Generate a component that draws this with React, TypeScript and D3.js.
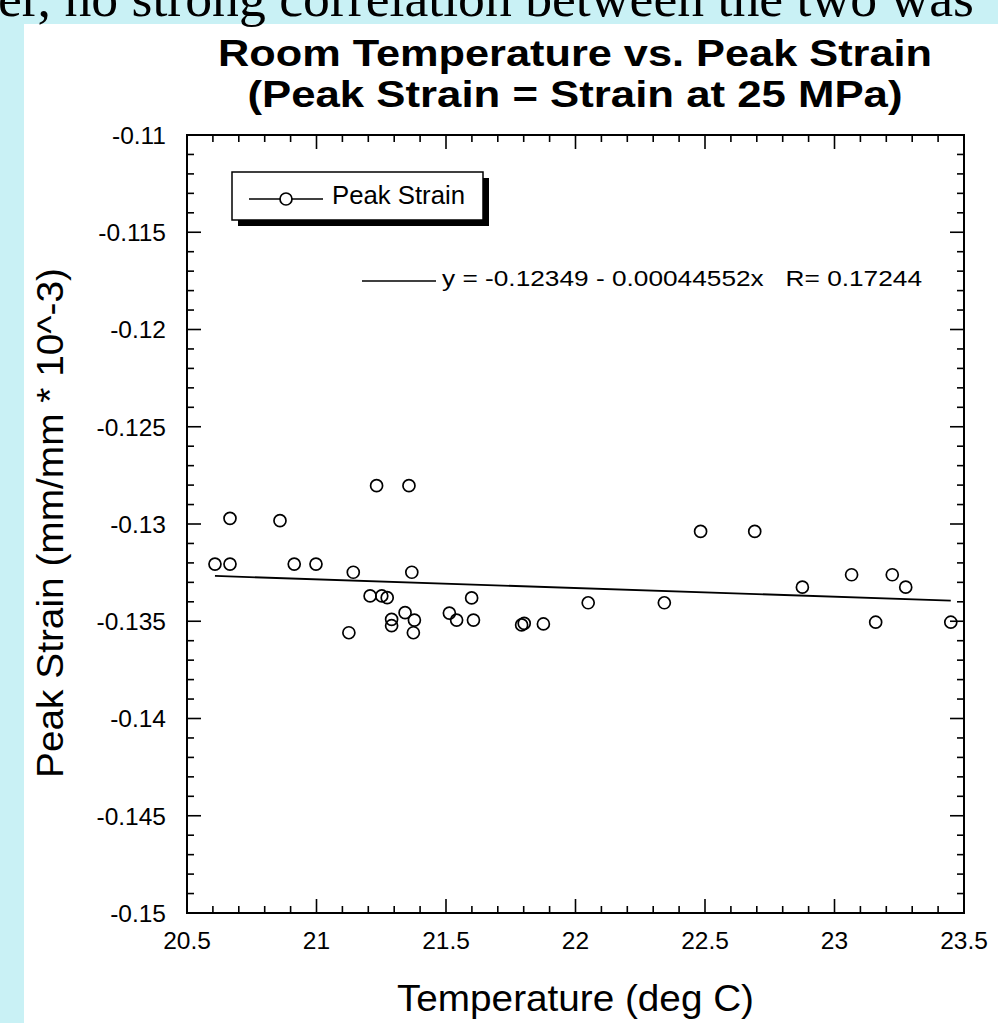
import React from "react";
import * as d3 from "d3";

// Room temperature (deg C) for each test
const temperature = [
  20.608, 20.666, 20.666, 20.859, 20.914, 20.998, 21.232, 21.357, 21.142, 21.368,
  21.125, 21.207, 21.252, 21.273, 21.29, 21.29, 21.342, 21.378, 21.374, 21.513,
  21.541, 21.599, 21.606, 21.792, 21.802, 21.876, 22.049, 22.343, 22.483, 22.692,
  22.876, 23.066, 23.223, 23.275, 23.159, 23.449,
];

// Peak strain (mm/mm * 10^-3) measured at 25 MPa
const peakStrain = [
  -0.13206, -0.13206, -0.12971, -0.12983, -0.13206, -0.13206, -0.12803, -0.12803, -0.13248, -0.13248,
  -0.13559, -0.1337, -0.1337, -0.13379, -0.1349, -0.13523, -0.13456, -0.13494, -0.13559, -0.13458,
  -0.13494, -0.1338, -0.13494, -0.13519, -0.13511, -0.13514, -0.13405, -0.13405, -0.13038, -0.13038,
  -0.13325, -0.13261, -0.13261, -0.13325, -0.13505, -0.13505,
];

// Linear fit coefficients: y = a + b * x
const fitIntercept = -0.12349;
const fitSlope = -0.00044552;
const fitR = 0.17244;

const xTickValues = [20.5, 21, 21.5, 22, 22.5, 23, 23.5];
const xTickLabels = ["20.5", "21", "21.5", "22", "22.5", "23", "23.5"];
const yTickValues = [-0.11, -0.115, -0.12, -0.125, -0.13, -0.135, -0.14, -0.145, -0.15];
const yTickLabels = ["-0.11", "-0.115", "-0.12", "-0.125", "-0.13", "-0.135", "-0.14", "-0.145", "-0.15"];

const W = 998;
const H = 1023;
const plot = { left: 187, right: 964, top: 135, bottom: 913 };
const SANS = "'Liberation Sans', Arial, Helvetica, sans-serif";

export default function App() {
  const x = d3.scaleLinear().domain([20.5, 23.5]).range([plot.left, plot.right]);
  const y = d3.scaleLinear().domain([-0.15, -0.11]).range([plot.bottom, plot.top]);

  const xMinor = d3.range(0, 31).map((i) => 20.5 + i * 0.1);
  const yMinor = d3.range(0, 41).map((i) => -0.15 + i * 0.001);
  const majorLen = 14;
  const minorLen = 7;

  const xMin = d3.min(temperature) as number;
  const xMax = d3.max(temperature) as number;
  const fitLine = d3
    .line<number>()
    .x((t) => x(t))
    .y((t) => y(fitIntercept + fitSlope * t));

  const fitLabel = `y = ${fitIntercept} - ${Math.abs(fitSlope).toFixed(8)}x   R= ${fitR}`;

  return (
    <div style={{ position: "absolute", left: 0, top: 0 }}>
      <svg width={W} height={H} style={{ display: "block" }}>
        <rect x={0} y={0} width={W} height={H} fill="#c9f1f5" />
        <rect x={24} y={24} width={W - 24} height={H - 24} fill="#ffffff" />
        <text
          x={-2}
          y={16}
          fontFamily="'Liberation Serif', 'Times New Roman', serif"
          fontSize={52}
          textLength={976}
          lengthAdjust="spacingAndGlyphs"
          fill="#000"
        >
          er, no strong correlation between the two was
        </text>

        {/* Title */}
        <text
          x={575}
          y={66}
          textAnchor="middle"
          fontFamily={SANS}
          fontWeight="bold"
          fontSize={37}
          textLength={714}
          lengthAdjust="spacingAndGlyphs"
        >
          Room Temperature vs. Peak Strain
        </text>
        <text
          x={575}
          y={107}
          textAnchor="middle"
          fontFamily={SANS}
          fontWeight="bold"
          fontSize={37}
          textLength={655}
          lengthAdjust="spacingAndGlyphs"
        >
          (Peak Strain = Strain at 25 MPa)
        </text>

        {/* Frame */}
        <rect
          x={plot.left}
          y={plot.top}
          width={plot.right - plot.left}
          height={plot.bottom - plot.top}
          fill="none"
          stroke="#000"
          strokeWidth={2}
        />

        {/* Ticks on all four sides, pointing inward */}
        <g stroke="#000" strokeWidth={1.6}>
          {xMinor.map((v, i) => {
            const len = i % 5 === 0 ? majorLen : minorLen;
            const px = x(v);
            return (
              <g key={"xt" + i}>
                <line x1={px} x2={px} y1={plot.bottom} y2={plot.bottom - len} />
                <line x1={px} x2={px} y1={plot.top} y2={plot.top + len} />
              </g>
            );
          })}
          {yMinor.map((v, i) => {
            const len = i % 5 === 0 ? majorLen : minorLen;
            const py = y(v);
            return (
              <g key={"yt" + i}>
                <line x1={plot.left} x2={plot.left + len} y1={py} y2={py} />
                <line x1={plot.right} x2={plot.right - len} y1={py} y2={py} />
              </g>
            );
          })}
        </g>

        {/* Tick labels */}
        <g fontFamily={SANS} fontSize={24.5} fill="#000">
          {xTickValues.map((v, i) => (
            <text key={"xl" + i} x={x(v)} y={949} textAnchor="middle">
              {xTickLabels[i]}
            </text>
          ))}
          {yTickValues.map((v, i) => (
            <text key={"yl" + i} x={166} y={y(v)} dy="0.36em" textAnchor="end">
              {yTickLabels[i]}
            </text>
          ))}
        </g>

        {/* Axis titles */}
        <text
          x={(plot.left + plot.right) / 2}
          y={1011}
          textAnchor="middle"
          fontFamily={SANS}
          fontSize={37}
          textLength={357}
          lengthAdjust="spacingAndGlyphs"
        >
          Temperature (deg C)
        </text>
        <text
          transform={`translate(63, ${(268 + 778) / 2}) rotate(-90)`}
          textAnchor="middle"
          fontFamily={SANS}
          fontSize={37}
          textLength={510}
          lengthAdjust="spacingAndGlyphs"
        >
          Peak Strain (mm/mm * 10^-3)
        </text>

        {/* Regression line */}
        <path d={fitLine([xMin, xMax]) || ""} fill="none" stroke="#000" strokeWidth={1.8} />

        {/* Data points */}
        <g fill="none" stroke="#000" strokeWidth={1.7}>
          {temperature.map((t, i) => (
            <circle key={"p" + i} cx={x(t)} cy={y(peakStrain[i])} r={6} />
          ))}
        </g>

        {/* Legend box with drop shadow */}
        <rect x={238} y={178} width={251} height={48} fill="#000" />
        <rect x={232} y={172} width={251} height={48} fill="#fff" stroke="#000" strokeWidth={1.5} />
        <line x1={249} x2={323} y1={199} y2={199} stroke="#000" strokeWidth={1.6} />
        <circle cx={286} cy={199} r={6} fill="#fff" stroke="#000" strokeWidth={1.7} />
        <text x={332} y={204} fontFamily={SANS} fontSize={25} textLength={133} lengthAdjust="spacingAndGlyphs">
          Peak Strain
        </text>

        {/* Fit equation */}
        <line x1={362} x2={436} y1={281} y2={281} stroke="#000" strokeWidth={1.6} />
        <text
          x={442}
          y={286}
          fontFamily={SANS}
          fontSize={22}
          textLength={480}
          lengthAdjust="spacingAndGlyphs"
          style={{ whiteSpace: "pre" }}
        >
          {fitLabel}
        </text>
      </svg>
    </div>
  );
}
